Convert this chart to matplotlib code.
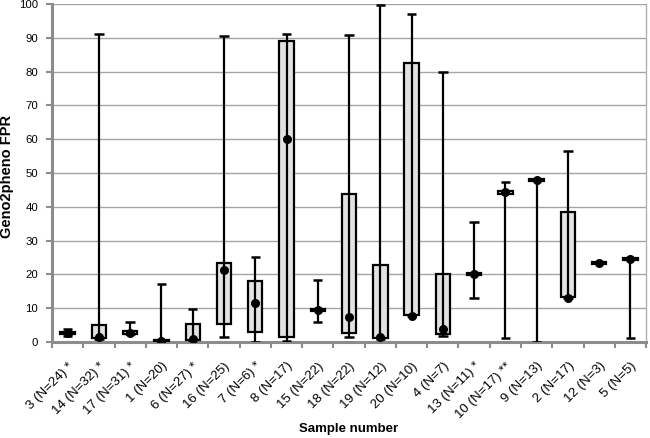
import matplotlib
matplotlib.use("Agg")
import matplotlib.pyplot as plt
import matplotlib.transforms as mtransforms
from matplotlib.ticker import FixedLocator, MultipleLocator

# Box-and-whisker summary per sample (Geno2pheno FPR)
samples = ["3 (N=24) *", "14 (N=32) *", "17 (N=31) *", "1 (N=20)", "6 (N=27) *",
           "16 (N=25)", "7 (N=6) *", "8 (N=17)", "15 (N=22)", "18 (N=22)",
           "19 (N=12)", "20 (N=10)", "4 (N=7)", "13 (N=11) *", "10 (N=17) **",
           "9 (N=13)", "2 (N=17)", "12 (N=3)", "5 (N=5)"]
low = [1.8, 1.0, 2.4, 0.0, 0.4, 1.6, 0.1, 0.4, 5.8, 1.6,
       1.0, 7.6, 1.9, 13.1, 1.1, 0.1, 13.0, 23.3, 1.1]
q1 = [2.3, 1.2, 2.5, 0.0, 0.5, 5.3, 3.1, 1.6, 9.1, 2.8,
      1.1, 8.0, 2.3, 19.8, 43.9, 47.7, 13.4, 23.1, 24.4]
median = [2.7, 1.5, 2.8, 0.2, 1.0, 21.4, 11.7, 60.1, 9.5, 7.3,
          1.6, 7.8, 3.8, 20.1, 44.3, 48.0, 13.1, 23.3, 24.7]
q3 = [3.1, 5.0, 3.2, 0.5, 5.3, 23.5, 18.1, 88.9, 9.9, 43.9,
      22.8, 82.4, 20.2, 20.4, 44.6, 48.3, 38.5, 23.6, 25.0]
high = [4.0, 91.1, 5.8, 17.2, 9.7, 90.4, 25.3, 91.1, 18.4, 90.8,
        99.7, 97.0, 80.0, 35.5, 47.4, 48.1, 56.4, 23.6, 24.8]

plt.rcParams["font.family"] = ["Liberation Sans", "DejaVu Sans"]

fig = plt.figure(figsize=(6.5, 4.38), dpi=100)
ax = fig.add_axes([0.08, 0.219, 0.914, 0.772])

x = list(range(len(samples)))

# boxes
ax.bar(x, [b - a for a, b in zip(q1, q3)], bottom=q1, width=0.46,
       color="#e2e2e2", edgecolor="black", linewidth=1.6, zorder=3)
# whiskers and caps
ax.vlines(x, low, high, color="black", linewidth=1.6, zorder=4)
ax.hlines(high, [i - 0.15 for i in x], [i + 0.15 for i in x], color="black", linewidth=1.8, zorder=4)
ax.hlines(low, [i - 0.15 for i in x], [i + 0.15 for i in x], color="black", linewidth=1.8, zorder=4)
# medians
ax.plot(x, median, "o", color="black", markersize=5.5, zorder=5)

ax.set_xlim(-0.5, len(samples) - 0.5)
ax.set_ylim(0, 100)
ax.yaxis.set_major_locator(MultipleLocator(10))
ax.grid(axis="y", color="#a4a4a4", linewidth=1.0, zorder=0)
ax.set_axisbelow(True)

ax.set_xticks(x)
ax.set_xticklabels(samples, rotation=45, ha="right", rotation_mode="anchor", fontsize=9.5)
shift = mtransforms.ScaledTranslation(2 / 100, 0, fig.dpi_scale_trans)
for lbl in ax.get_xticklabels():
    lbl.set_transform(lbl.get_transform() + shift)
ax.xaxis.set_minor_locator(FixedLocator([i - 0.5 for i in range(len(samples) + 1)]))
ax.tick_params(axis="x", which="major", length=0, pad=13)
ax.tick_params(axis="x", which="minor", length=4, width=1.5, color="#8c8c8c", direction="out")
ax.tick_params(axis="y", length=4, width=1.5, color="#8c8c8c", labelsize=8.2, pad=6)

for side in ["left", "bottom"]:
    ax.spines[side].set_color("#8c8c8c")
    ax.spines[side].set_linewidth(2.2)
ax.spines["right"].set_color("#b0b0b0")
ax.spines["right"].set_linewidth(1.0)
ax.spines["top"].set_visible(False)

ax.set_xlabel("Sample number", fontsize=9.5, fontweight="bold", va="center")
ax.xaxis.set_label_coords(0.5, -0.257)
ax.set_ylabel("Geno2pheno FPR", fontsize=10.5, fontweight="bold", va="center")
ax.yaxis.set_label_coords(-0.076, 0.49)

fig.savefig("out.png", dpi=100)
